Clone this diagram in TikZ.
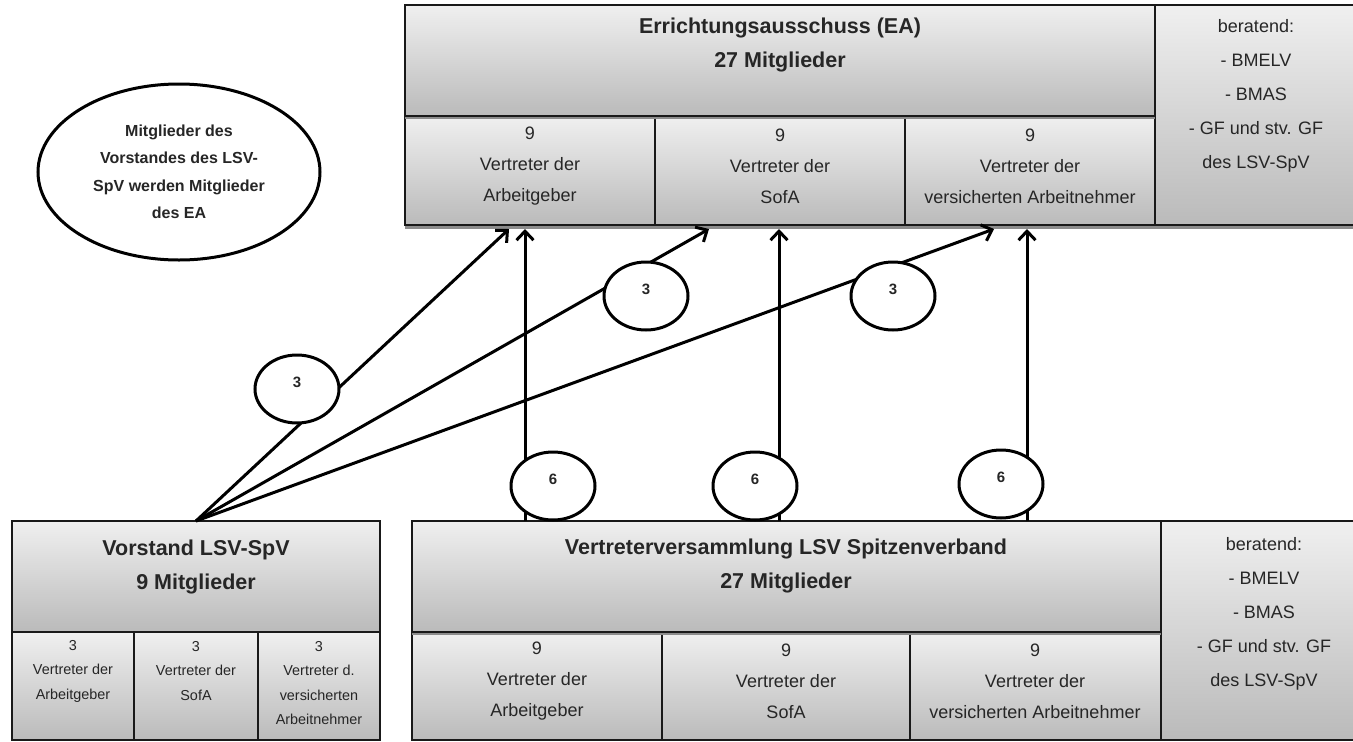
\documentclass[tikz,border=0pt]{standalone}
\usepackage{fontspec}
\setmainfont{Liberation Sans}
\usetikzlibrary{shapes.geometric,arrows.meta}
\begin{document}
\begin{tikzpicture}[x=1pt,y=-1pt,
  cell/.style={draw=black!90, line width=1.4pt, top color=black!6, bottom color=black!27,
    inner sep=0pt, outer sep=0pt, anchor=north west},
  ttl/.style={font=\fontsize{21.5}{34}\selectfont\bfseries, text=black!85, align=center, inner sep=0pt},
  txt/.style={font=\fontsize{18}{31}\selectfont, text=black!85, align=center, inner sep=0pt},
  ber/.style={font=\fontsize{18}{34}\selectfont, text=black!85, align=center, inner sep=0pt},
  sml/.style={font=\fontsize{14.4}{24.5}\selectfont, text=black!85, align=center, inner sep=0pt},
  note/.style={ellipse, draw=black, line width=3pt, fill=white, inner sep=0pt,
    minimum width=282pt, minimum height=176pt, align=center,
    font=\fontsize{16}{27.5}\selectfont\bfseries, text=black!85},
  num/.style={ellipse, draw=black, line width=3pt, fill=white, inner sep=0pt,
    minimum width=84pt, minimum height=68pt, text height=10pt, text depth=14pt,
    font=\fontsize{15}{18}\selectfont\bfseries, text=black!85},
  arr/.style={line width=3pt, -{Straight Barb[length=9pt,width=17pt]}},
  hatch/.style={draw=black!45, line width=2.5pt}
]
\useasboundingbox (0,0) rectangle (1353,742);

% ---- Errichtungsausschuss
\node[cell, minimum width=750pt, minimum height=111pt] (eah) at (405,5) {};
\node[cell, minimum width=250pt, minimum height=109pt] (ea1) at (405,116) {};
\node[cell, minimum width=250pt, minimum height=109pt] (ea2) at (655,116) {};
\node[cell, minimum width=250pt, minimum height=109pt] (ea3) at (905,116) {};
\node[cell, minimum width=215pt, minimum height=220pt] (eab) at (1155,5) {};
\draw[hatch] (405,118) -- (1155,118);
\draw[hatch] (405,227.5) -- (1353,227.5);

\node[ttl] (eaht) at (780,45) {Errichtungsausschuss (EA)\\27 Mitglieder};
\node[txt] (ea1t) at (530,166) {9\\Vertreter der\\Arbeitgeber};
\node[txt] (ea2t) at (780,166) {9\\Vertreter der\\SofA};
\node[txt] (ea3t) at (1030,166) {9\\Vertreter der\\versicherten Arbeitnehmer};
\node[ber] (eabt) at (1256,96) {beratend:\\- BMELV\\- BMAS\\- GF und stv. GF\\des LSV-SpV};

% ---- Vorstand
\node[cell, minimum width=368pt, minimum height=111pt] (vh) at (12,521) {};
\node[cell, minimum width=122pt, minimum height=108pt] (v1) at (12,632) {};
\node[cell, minimum width=124pt, minimum height=108pt] (v2) at (134,632) {};
\node[cell, minimum width=122pt, minimum height=108pt] (v3) at (258,632) {};

\node[ttl] (vht) at (196,567) {Vorstand LSV-SpV\\9 Mitglieder};
\node[sml] (v1t) at (73,671) {3\\Vertreter der\\Arbeitgeber};
\node[sml] (v2t) at (196,671) {3\\Vertreter der\\SofA};
\node[sml] (v3t) at (319,683) {3\\Vertreter d.\\versicherten\\Arbeitnehmer};

% ---- Vertreterversammlung
\node[cell, minimum width=749pt, minimum height=111pt] (vvh) at (412,521) {};
\node[cell, minimum width=250pt, minimum height=108pt] (vv1) at (412,632) {};
\node[cell, minimum width=248pt, minimum height=108pt] (vv2) at (662,632) {};
\node[cell, minimum width=251pt, minimum height=108pt] (vv3) at (910,632) {};
\node[cell, minimum width=214pt, minimum height=219pt] (vvb) at (1161,521) {};
\draw[hatch] (412,634) -- (1161,634);

\node[ttl] (vvht) at (786,566) {Vertreterversammlung LSV Spitzenverband\\27 Mitglieder};
\node[txt] (vv1t) at (537,681) {9\\Vertreter der\\Arbeitgeber};
\node[txt] (vv2t) at (786,681) {9\\Vertreter der\\SofA};
\node[txt] (vv3t) at (1035,681) {9\\Vertreter der\\versicherten Arbeitnehmer};
\node[ber] (vvbt) at (1264,614) {beratend:\\- BMELV\\- BMAS\\- GF und stv. GF\\des LSV-SpV};

% ---- connectors
\coordinate (a1) at (509,229);
\coordinate (a2) at (709,229);
\coordinate (a3) at (994,229);
\draw[arr] (vh.north) -- (a1);
\draw[arr] (vh.north) -- (a2);
\draw[arr] (vh.north) -- (a3);

\coordinate (s1) at (525,521); \coordinate (t1) at (525,229);
\coordinate (s2) at (779,521); \coordinate (t2) at (779,229);
\coordinate (s3) at (1027,521); \coordinate (t3) at (1027,229);
\draw[arr] (s1) -- (t1);
\draw[arr] (s2) -- (t2);
\draw[arr] (s3) -- (t3);

% ---- number ellipses
\node[num] (n3a) at (297,389) {3};
\node[num] (n3b) at (646,296) {3};
\node[num] (n3c) at (893,296) {3};
\node[num] (n6a) at (553,486) {6};
\node[num] (n6b) at (755,486) {6};
\node[num] (n6c) at (1001,484) {6};

% ---- note ellipse
\node[note] (note) at (179,172) {Mitglieder des\\Vorstandes des LSV-\\SpV werden Mitglieder\\des EA};
\end{tikzpicture}
\end{document}
